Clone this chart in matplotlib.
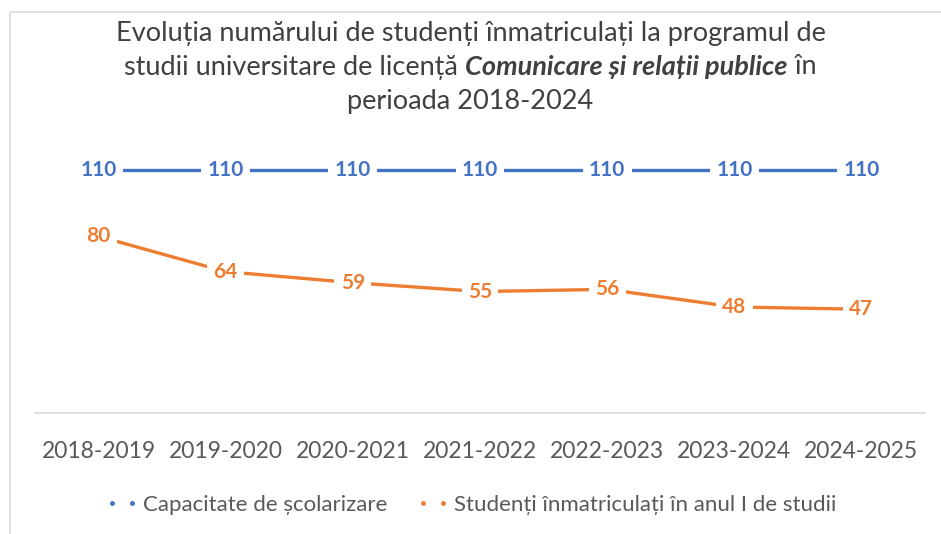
import matplotlib.pyplot as plt
from matplotlib.lines import Line2D
from matplotlib.patches import Rectangle

plt.rcParams["font.family"] = ["Lato", "DejaVu Sans"]

years = ["2018-2019", "2019-2020", "2020-2021", "2021-2022",
         "2022-2023", "2023-2024", "2024-2025"]
capacitate = [110, 110, 110, 110, 110, 110, 110]
studenti = [80, 64, 59, 55, 56, 48, 47]

BLUE = "#4472C4"
ORANGE = "#ED7D31"
GREY = "#595959"

fig = plt.figure(figsize=(9.41, 5.34), dpi=100)
fig.patch.set_facecolor("white")

# chart frame (light border)
fig.patches.append(Rectangle((10 / 941, -0.05), 1.0, 1.05 - 12 / 534,
                             transform=fig.transFigure, fill=False,
                             edgecolor="#d9d9d9", linewidth=1.2))

ax = fig.add_axes([35 / 941, (534 - 413) / 534, 890 / 941, 265 / 534])
x = list(range(len(years)))

ax.plot(x, capacitate, color=BLUE, linewidth=2.4, solid_capstyle="butt")
ax.plot(x, studenti, color=ORANGE, linewidth=2.4, solid_capstyle="butt")

for xi, v in zip(x, capacitate):
    ax.text(xi, v, str(v), color=BLUE, fontsize=15, fontweight="bold",
            ha="center", va="center",
            bbox=dict(boxstyle="square,pad=0.3", fc="white", ec="none"))
for xi, v in zip(x, studenti):
    ax.text(xi, v, str(v), color=ORANGE, fontsize=15, fontweight="bold",
            ha="center", va="center",
            bbox=dict(boxstyle="square,pad=0.3", fc="white", ec="none"))

ax.set_xlim(-0.5, 6.5)
ax.set_ylim(0, 120)
ax.set_yticks([])
ax.set_xticks(x)
ax.set_xticklabels(years, fontsize=16.5, color=GREY)
ax.tick_params(axis="x", length=0, pad=20)
for s in ["top", "right", "left"]:
    ax.spines[s].set_visible(False)
ax.spines["bottom"].set_color("#d9d9d9")
ax.spines["bottom"].set_linewidth(1.2)

# title, three lines, middle one partly bold italic
tsize = 19.5
tcol = "#404040"
fig.text(0.5, 1 - 33 / 534, "Evoluția numărului de studenți înmatriculați la programul de",
         ha="center", va="center", fontsize=tsize, color=tcol)
fig.text(0.5, 1 - 101 / 534, "perioada 2018-2024",
         ha="center", va="center", fontsize=tsize, color=tcol)

parts = [("studii universitare de licență ", "normal", "normal"),
         ("Comunicare și relații publice", "bold", "italic"),
         (" în", "normal", "normal")]
fig.canvas.draw()
renderer = fig.canvas.get_renderer()
texts = []
widths = []
for s, w, st in parts:
    t = fig.text(0, 1 - 67 / 534, s, ha="left", va="center", fontsize=tsize,
                 color=tcol, fontweight=w, fontstyle=st)
    widths.append(t.get_window_extent(renderer).width)
    texts.append(t)
total = sum(widths)
start = (fig.bbox.width - total) / 2
for t, w in zip(texts, widths):
    t.set_x(start / fig.bbox.width)
    start += w

handles = [Line2D([], [], color=BLUE, linestyle="none", marker="o", markersize=2.5),
           Line2D([], [], color=ORANGE, linestyle="none", marker="o", markersize=2.5)]
fig.legend(handles, ["Capacitate de școlarizare", "Studenți înmatriculați în anul I de studii"],
           loc="center", bbox_to_anchor=(0.5, 1 - 505 / 534), ncol=2, frameon=False,
           fontsize=16, labelcolor=GREY, numpoints=2, handlelength=1.5,
           handletextpad=0.2, columnspacing=1.3)

fig.savefig("out.png", dpi=100, facecolor="white")
